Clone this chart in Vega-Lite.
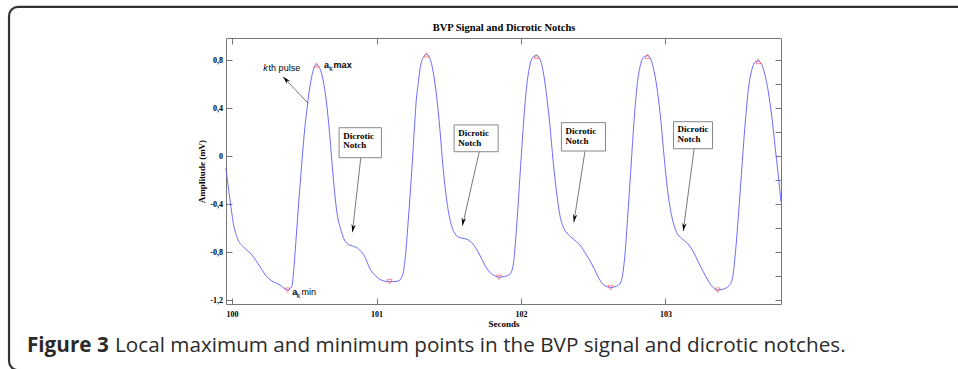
{
  "$schema": "https://vega.github.io/schema/vega-lite/v6.json",
  "width": 555,
  "height": 266,
  "autosize": {"type": "none"},
  "padding": {"left": 226, "top": 38, "right": 177, "bottom": 65},
  "background": "white",
  "config": {"view": {"stroke": null}, "axis": {"grid": false}},
  "datasets": {
    "signal": [
      {"t": 99.957, "v": -0.1}, {"t": 99.972, "v": -0.24}, {"t": 99.986, "v": -0.364}, {"t": 100.009, "v": -0.56},
      {"t": 100.037, "v": -0.683}, {"t": 100.078, "v": -0.753}, {"t": 100.136, "v": -0.82}, {"t": 100.194, "v": -0.92},
      {"t": 100.24, "v": -1.003}, {"t": 100.286, "v": -1.045}, {"t": 100.332, "v": -1.072}, {"t": 100.383, "v": -1.112},
      {"t": 100.413, "v": -1.087}, {"t": 100.43, "v": -0.9}, {"t": 100.445, "v": -0.656}, {"t": 100.462, "v": -0.378},
      {"t": 100.48, "v": -0.1}, {"t": 100.499, "v": 0.178}, {"t": 100.522, "v": 0.428}, {"t": 100.545, "v": 0.622},
      {"t": 100.566, "v": 0.733}, {"t": 100.584, "v": 0.761}, {"t": 100.607, "v": 0.733}, {"t": 100.63, "v": 0.636},
      {"t": 100.653, "v": 0.455}, {"t": 100.676, "v": 0.178}, {"t": 100.699, "v": -0.156}, {"t": 100.722, "v": -0.433},
      {"t": 100.757, "v": -0.628}, {"t": 100.785, "v": -0.711}, {"t": 100.815, "v": -0.739}, {"t": 100.85, "v": -0.753},
      {"t": 100.884, "v": -0.781}, {"t": 100.919, "v": -0.836}, {"t": 100.953, "v": -0.933}, {"t": 100.988, "v": -0.989},
      {"t": 101.034, "v": -1.031}, {"t": 101.09, "v": -1.045}, {"t": 101.15, "v": -1.039}, {"t": 101.177, "v": -1.003},
      {"t": 101.196, "v": -0.878}, {"t": 101.219, "v": -0.545}, {"t": 101.242, "v": -0.156}, {"t": 101.265, "v": 0.288},
      {"t": 101.276, "v": 0.48}, {"t": 101.288, "v": 0.6}, {"t": 101.3, "v": 0.72}, {"t": 101.323, "v": 0.822},
      {"t": 101.346, "v": 0.848}, {"t": 101.369, "v": 0.816}, {"t": 101.392, "v": 0.705}, {"t": 101.415, "v": 0.511},
      {"t": 101.438, "v": 0.233}, {"t": 101.461, "v": -0.1}, {"t": 101.484, "v": -0.35}, {"t": 101.512, "v": -0.545},
      {"t": 101.542, "v": -0.642}, {"t": 101.577, "v": -0.678}, {"t": 101.623, "v": -0.689}, {"t": 101.669, "v": -0.733},
      {"t": 101.715, "v": -0.823}, {"t": 101.75, "v": -0.906}, {"t": 101.785, "v": -0.967}, {"t": 101.819, "v": -0.995},
      {"t": 101.847, "v": -1.006}, {"t": 101.888, "v": -1.0}, {"t": 101.923, "v": -0.983}, {"t": 101.946, "v": -0.906},
      {"t": 101.969, "v": -0.6}, {"t": 101.992, "v": -0.183}, {"t": 102.015, "v": 0.233}, {"t": 102.038, "v": 0.567},
      {"t": 102.062, "v": 0.761}, {"t": 102.085, "v": 0.83}, {"t": 102.107, "v": 0.838}, {"t": 102.131, "v": 0.811},
      {"t": 102.154, "v": 0.705}, {"t": 102.177, "v": 0.511}, {"t": 102.2, "v": 0.261}, {"t": 102.223, "v": -0.045},
      {"t": 102.246, "v": -0.295}, {"t": 102.269, "v": -0.489}, {"t": 102.297, "v": -0.6}, {"t": 102.327, "v": -0.65},
      {"t": 102.362, "v": -0.689}, {"t": 102.408, "v": -0.739}, {"t": 102.454, "v": -0.823}, {"t": 102.5, "v": -0.92},
      {"t": 102.54, "v": -1.017}, {"t": 102.569, "v": -1.067}, {"t": 102.62, "v": -1.092}, {"t": 102.661, "v": -1.083},
      {"t": 102.692, "v": -1.045}, {"t": 102.715, "v": -0.878}, {"t": 102.738, "v": -0.517}, {"t": 102.761, "v": -0.1},
      {"t": 102.784, "v": 0.317}, {"t": 102.807, "v": 0.622}, {"t": 102.83, "v": 0.775}, {"t": 102.853, "v": 0.83},
      {"t": 102.876, "v": 0.838}, {"t": 102.9, "v": 0.803}, {"t": 102.922, "v": 0.705}, {"t": 102.945, "v": 0.539},
      {"t": 102.969, "v": 0.288}, {"t": 102.992, "v": -0.017}, {"t": 103.019, "v": -0.323}, {"t": 103.047, "v": -0.517},
      {"t": 103.077, "v": -0.633}, {"t": 103.112, "v": -0.683}, {"t": 103.153, "v": -0.725}, {"t": 103.193, "v": -0.795},
      {"t": 103.227, "v": -0.878}, {"t": 103.274, "v": -0.989}, {"t": 103.319, "v": -1.078}, {"t": 103.361, "v": -1.114},
      {"t": 103.4, "v": -1.106}, {"t": 103.44, "v": -1.078}, {"t": 103.464, "v": -1.017}, {"t": 103.485, "v": -0.795},
      {"t": 103.509, "v": -0.433}, {"t": 103.532, "v": -0.045}, {"t": 103.555, "v": 0.317}, {"t": 103.578, "v": 0.594},
      {"t": 103.601, "v": 0.733}, {"t": 103.624, "v": 0.789}, {"t": 103.643, "v": 0.794}, {"t": 103.666, "v": 0.767},
      {"t": 103.689, "v": 0.678}, {"t": 103.712, "v": 0.539}, {"t": 103.735, "v": 0.344}, {"t": 103.758, "v": 0.094},
      {"t": 103.781, "v": -0.156}, {"t": 103.8, "v": -0.38}
    ],
    "maxima": [
      {"t": 100.584, "v": 0.76}, {"t": 101.346, "v": 0.845}, {"t": 102.107, "v": 0.832}, {"t": 102.876, "v": 0.832}, {"t": 103.643, "v": 0.79}
    ],
    "minima": [
      {"t": 100.383, "v": -1.115}, {"t": 101.09, "v": -1.045}, {"t": 101.847, "v": -1.008}, {"t": 102.62, "v": -1.095}, {"t": 103.361, "v": -1.115}
    ],
    "frame": [
      {"t": 98.456, "t2": 105.18, "v": 1.244, "v2": -1.781}
    ],
    "boxes": [
      {"t": 100.741, "t2": 101.034, "v": 0.238, "v2": -0.012},
      {"t": 101.537, "t2": 101.842, "v": 0.261, "v2": 0.038},
      {"t": 102.28, "t2": 102.585, "v": 0.28, "v2": 0.044},
      {"t": 103.056, "t2": 103.326, "v": 0.288, "v2": 0.063}
    ],
    "arrows": [
      {"kind": "pulse", "t": 100.526, "v": 0.442, "t2": 100.353, "v2": 0.663},
      {"kind": "notch", "t": 100.891, "v": -0.012, "t2": 100.833, "v2": -0.633},
      {"kind": "notch", "t": 101.711, "v": 0.038, "t2": 101.595, "v2": -0.578},
      {"kind": "notch", "t": 102.443, "v": 0.042, "t2": 102.366, "v2": -0.55},
      {"kind": "notch", "t": 103.199, "v": 0.063, "t2": 103.123, "v2": -0.623}
    ],
    "labels": [
      {"kind": "box", "label": "Dicrotic", "t": 100.769, "v": 0.144},
      {"kind": "box", "label": "Notch", "t": 100.769, "v": 0.067},
      {"kind": "box", "label": "Dicrotic", "t": 101.565, "v": 0.172},
      {"kind": "box", "label": "Notch", "t": 101.565, "v": 0.086},
      {"kind": "box", "label": "Dicrotic", "t": 102.308, "v": 0.186},
      {"kind": "box", "label": "Notch", "t": 102.308, "v": 0.1025},
      {"kind": "box", "label": "Dicrotic", "t": 103.084, "v": 0.2},
      {"kind": "box", "label": "Notch", "t": 103.084, "v": 0.117},
      {"kind": "italic", "label": "k", "t": 100.215, "v": 0.711},
      {"kind": "plain", "label": "th pulse", "t": 100.253, "v": 0.711},
      {"kind": "bold", "label": "a", "t": 100.637, "v": 0.736},
      {"kind": "sub", "label": "k", "t": 100.672, "v": 0.711},
      {"kind": "bold", "label": "max", "t": 100.703, "v": 0.736},
      {"kind": "bold", "label": "a", "t": 100.416, "v": -1.152},
      {"kind": "sub", "label": "k", "t": 100.447, "v": -1.177},
      {"kind": "plain", "label": "min", "t": 100.481, "v": -1.152},
      {"kind": "capbold", "label": "Figure 3", "t": 98.58, "v": -1.631},
      {"kind": "cap", "label": "Local maximum and minimum points in the BVP signal and dicrotic notches.", "t": 99.19, "v": -1.631}
    ]
  },
  "layer": [
    {
      "layer": [
        {
          "data": {"name": "frame"},
          "mark": {"type": "rect", "fill": null, "fillOpacity": 0, "stroke": "#333333", "strokeWidth": 2.2, "cornerRadius": 9, "clip": false},
          "encoding": {
            "x": {"field": "t", "type": "quantitative"},
            "x2": {"field": "t2"},
            "y": {"field": "v", "type": "quantitative"},
            "y2": {"field": "v2"}
          }
        },
        {
          "data": {"name": "signal"},
          "mark": {"type": "line", "color": "#5a5aff", "strokeWidth": 0.9, "interpolate": "monotone"},
          "encoding": {
            "x": {"field": "t", "type": "quantitative",
              "scale": {"domain": [99.958, 103.8], "nice": false, "zero": false},
              "axis": {"title": "Seconds", "values": [100, 101, 102, 103], "format": "d",
                "labelFont": "Liberation Serif", "labelFontWeight": "bold", "labelFontSize": 8, "labelColor": "black",
                "titleFont": "Liberation Serif", "titleFontWeight": "bold", "titleFontSize": 9, "titleColor": "black",
                "tickSize": -6, "tickColor": "#777777", "domainColor": "#777777", "labelPadding": 12, "titlePadding": 1.5}},
            "y": {"field": "v", "type": "quantitative",
              "scale": {"domain": [-1.23, 0.985], "nice": false, "zero": false},
              "axis": {"title": "Amplitude (mV)", "values": [-1.2, -1, -0.8, -0.6, -0.4, -0.2, 0, 0.2, 0.4, 0.6, 0.8],
                "labelExpr": "round(datum.value*10) % 4 != 0 ? '' : (datum.value == 0 ? '0' : (datum.value < 0 ? '-' : '') + replace(format(abs(datum.value), '.1f'), '.', ','))",
                "labelFont": "Liberation Serif", "labelFontWeight": "bold", "labelFontSize": 8, "labelColor": "black",
                "titleFont": "Liberation Serif", "titleFontWeight": "bold", "titleFontSize": 9, "titleColor": "black",
                "tickSize": -6, "tickColor": "#777777", "domainColor": "#777777", "labelPadding": 9.5, "titlePadding": 3.5}}
          }
        },
        {
          "data": {"name": "maxima"},
          "mark": {"type": "point", "shape": "triangle-up", "filled": false, "stroke": "#ff3b3b", "strokeWidth": 0.8, "size": 26},
          "encoding": {"x": {"field": "t", "type": "quantitative"}, "y": {"field": "v", "type": "quantitative"}}
        },
        {
          "data": {"name": "minima"},
          "mark": {"type": "point", "shape": "triangle-down", "filled": false, "stroke": "#ff3b3b", "strokeWidth": 0.8, "size": 26},
          "encoding": {"x": {"field": "t", "type": "quantitative"}, "y": {"field": "v", "type": "quantitative"}}
        },
        {
          "data": {"name": "arrows"},
          "mark": {"type": "rule", "color": "#555555", "strokeWidth": 0.8},
          "encoding": {
            "x": {"field": "t", "type": "quantitative"}, "x2": {"field": "t2"},
            "y": {"field": "v", "type": "quantitative"}, "y2": {"field": "v2"}
          }
        },
        {
          "data": {"name": "arrows"},
          "transform": [{"filter": "datum.kind == 'notch'"}],
          "mark": {"type": "point", "shape": "M0,0 L-0.55,-2 L0,-1.4 L0.55,-2 Z", "filled": true, "fill": "black", "strokeWidth": 0, "size": 64, "angle": 9, "opacity": 1},
          "encoding": {"x": {"field": "t2", "type": "quantitative"}, "y": {"field": "v2", "type": "quantitative"}}
        },
        {
          "data": {"name": "arrows"},
          "transform": [{"filter": "datum.kind == 'pulse'"}],
          "mark": {"type": "point", "shape": "M0,0 L-0.55,-2 L0,-1.4 L0.55,-2 Z", "filled": true, "fill": "black", "strokeWidth": 0, "size": 64, "angle": 137, "opacity": 1},
          "encoding": {"x": {"field": "t2", "type": "quantitative"}, "y": {"field": "v2", "type": "quantitative"}}
        },
        {
          "data": {"name": "boxes"},
          "mark": {"type": "rect", "fill": "white", "stroke": "#888888", "strokeWidth": 1},
          "encoding": {
            "x": {"field": "t", "type": "quantitative"}, "x2": {"field": "t2"},
            "y": {"field": "v", "type": "quantitative"}, "y2": {"field": "v2"}
          }
        },
        {
          "data": {"name": "labels"},
          "transform": [{"filter": "datum.kind == 'box'"}],
          "mark": {"type": "text", "font": "Liberation Serif", "fontWeight": "bold", "fontSize": 9, "align": "left", "baseline": "alphabetic", "color": "black"},
          "encoding": {"x": {"field": "t", "type": "quantitative"}, "y": {"field": "v", "type": "quantitative"}, "text": {"field": "label"}}
        },
        {
          "data": {"name": "labels"},
          "transform": [{"filter": "datum.kind == 'italic'"}],
          "mark": {"type": "text", "font": "Liberation Sans", "fontStyle": "italic", "fontSize": 9, "align": "left", "baseline": "alphabetic", "color": "black"},
          "encoding": {"x": {"field": "t", "type": "quantitative"}, "y": {"field": "v", "type": "quantitative"}, "text": {"field": "label"}}
        },
        {
          "data": {"name": "labels"},
          "transform": [{"filter": "datum.kind == 'plain'"}],
          "mark": {"type": "text", "font": "Liberation Sans", "fontSize": 9, "align": "left", "baseline": "alphabetic", "color": "black"},
          "encoding": {"x": {"field": "t", "type": "quantitative"}, "y": {"field": "v", "type": "quantitative"}, "text": {"field": "label"}}
        },
        {
          "data": {"name": "labels"},
          "transform": [{"filter": "datum.kind == 'bold'"}],
          "mark": {"type": "text", "font": "Liberation Sans", "fontWeight": "bold", "fontSize": 9, "align": "left", "baseline": "alphabetic", "color": "black"},
          "encoding": {"x": {"field": "t", "type": "quantitative"}, "y": {"field": "v", "type": "quantitative"}, "text": {"field": "label"}}
        },
        {
          "data": {"name": "labels"},
          "transform": [{"filter": "datum.kind == 'sub'"}],
          "mark": {"type": "text", "font": "Liberation Sans", "fontSize": 7, "align": "left", "baseline": "alphabetic", "color": "black"},
          "encoding": {"x": {"field": "t", "type": "quantitative"}, "y": {"field": "v", "type": "quantitative"}, "text": {"field": "label"}}
        },
        {
          "data": {"name": "labels"},
          "transform": [{"filter": "datum.kind == 'capbold'"}],
          "mark": {"type": "text", "font": "Open Sans", "fontWeight": "bold", "fontSize": 20.7, "align": "left", "baseline": "alphabetic", "color": "#2b2b2b", "clip": false},
          "encoding": {"x": {"field": "t", "type": "quantitative"}, "y": {"field": "v", "type": "quantitative"}, "text": {"field": "label"}}
        },
        {
          "data": {"name": "labels"},
          "transform": [{"filter": "datum.kind == 'cap'"}],
          "mark": {"type": "text", "font": "Open Sans", "fontSize": 20.7, "align": "left", "baseline": "alphabetic", "color": "#2b2b2b", "clip": false},
          "encoding": {"x": {"field": "t", "type": "quantitative"}, "y": {"field": "v", "type": "quantitative"}, "text": {"field": "label"}}
        }
      ]
    },
    {
      "data": {"name": "maxima"},
      "mark": {"type": "point", "opacity": 0},
      "encoding": {
        "x": {"field": "t", "type": "quantitative",
          "scale": {"domain": [99.958, 103.8], "nice": false, "zero": false},
          "axis": {"orient": "top", "title": "BVP Signal and Dicrotic Notchs", "values": [100, 101, 102, 103], "labels": false,
            "titleFont": "Liberation Serif", "titleFontWeight": "bold", "titleFontSize": 10.5, "titleColor": "black", "titlePadding": 5,
            "tickSize": -6, "tickColor": "#777777", "domainColor": "#777777"}},
        "y": {"field": "v", "type": "quantitative",
          "scale": {"domain": [-1.23, 0.985], "nice": false, "zero": false},
          "axis": {"orient": "right", "title": null, "values": [-1.2, -1, -0.8, -0.6, -0.4, -0.2, 0, 0.2, 0.4, 0.6, 0.8], "labels": false,
            "tickSize": -6, "tickColor": "#777777", "domainColor": "#777777"}}
      }
    }
  ],
  "resolve": {"scale": {"x": "independent", "y": "independent"}}
}
